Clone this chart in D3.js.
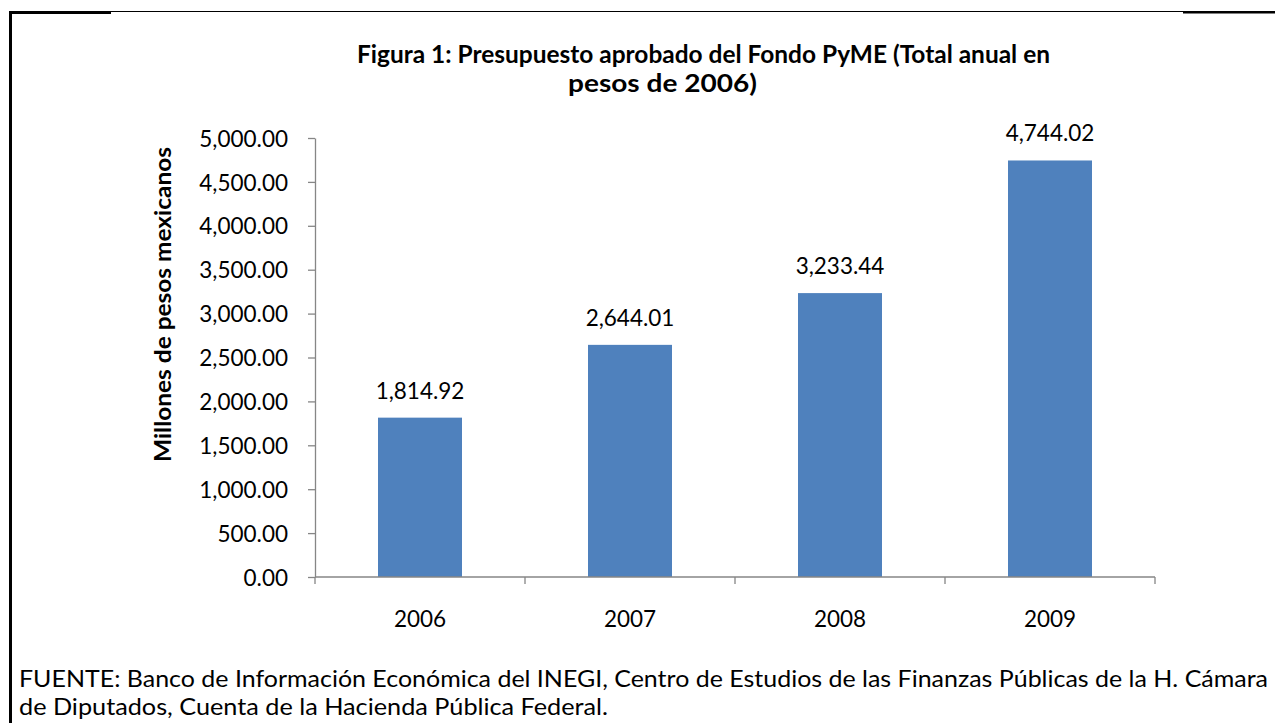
<!DOCTYPE html>
<html>
<head>
<meta charset="utf-8">
<script src="https://cdn.jsdelivr.net/npm/d3@7"></script>
<style>
  html, body { margin: 0; padding: 0; background: #fff; }
  svg { display: block; }
  text { font-family: Lato, "Open Sans", sans-serif; fill: #000; }
</style>
</head>
<body>
<svg id="chart" width="1275" height="723"></svg>
<script>
const categories = ["2006", "2007", "2008", "2009"];
const values = [1814.92, 2644.01, 3233.44, 4744.02];
const yTicks = [0, 500, 1000, 1500, 2000, 2500, 3000, 3500, 4000, 4500, 5000];
const titleLines = ["Figura 1: Presupuesto aprobado del Fondo PyME (Total anual en", "pesos de 2006)"];
const yTitle = "Millones de pesos mexicanos";
const sourceLines = [
  "FUENTE: Banco de Información Económica del INEGI, Centro de Estudios de las Finanzas Públicas de la H. Cámara",
  "de Diputados, Cuenta de la Hacienda Pública Federal."
];

const svg = d3.select("#chart");
const fmt = d3.format(",.2f");
const axisColor = "#868686";
const labelSize = 22.5;

// frame lines (page border)
svg.append("rect").attr("x", 9).attr("y", 11).attr("width", 3).attr("height", 712).attr("fill", "#000");
svg.append("rect").attr("x", 9).attr("y", 11).attr("width", 102).attr("height", 3).attr("fill", "#000");
svg.append("rect").attr("x", 111).attr("y", 11).attr("width", 1072).attr("height", 1).attr("fill", "#000");
svg.append("rect").attr("x", 1183).attr("y", 11).attr("width", 92).attr("height", 2.5).attr("fill", "#000");

const y = d3.scaleLinear().domain([0, 5000]).range([577, 138]);
const x = d3.scaleBand().domain(categories).range([315, 1155]).paddingInner(0.6).paddingOuter(0.3);

function squeeze(sel, targetWidth) {
  sel.attr("textLength", targetWidth).attr("lengthAdjust", "spacingAndGlyphs");
}

// bars
svg.append("g").selectAll("rect").data(values).join("rect")
  .attr("x", (d, i) => x(categories[i]))
  .attr("y", d => y(d))
  .attr("width", x.bandwidth())
  .attr("height", d => y(0) - y(d))
  .attr("fill", "#4F81BD");

// y axis
const yAxis = svg.append("g").attr("transform", "translate(315,0)")
  .call(d3.axisLeft(y).tickValues(yTicks).tickSize(7).tickSizeOuter(0).tickPadding(20).tickFormat(fmt));
yAxis.select(".domain").attr("stroke", axisColor).attr("stroke-width", 1.3);
yAxis.selectAll(".tick line").attr("stroke", axisColor).attr("stroke-width", 1.3);
yAxis.selectAll(".tick text").attr("font-family", "Lato").attr("font-size", labelSize).attr("fill", "#000").attr("dy", "0.36em");

// x axis
const xAxisG = svg.append("g");
xAxisG.append("line").attr("x1", 315).attr("x2", 1155).attr("y1", y(0)).attr("y2", y(0))
  .attr("stroke", axisColor).attr("stroke-width", 1.3);
const bounds = d3.range(categories.length + 1).map(i => x.range()[0] + i * x.step());
xAxisG.selectAll("line.tk").data(bounds).join("line").attr("class", "tk")
  .attr("x1", d => d).attr("x2", d => d).attr("y1", y(0)).attr("y2", y(0) + 7)
  .attr("stroke", axisColor).attr("stroke-width", 1.3);
xAxisG.selectAll("text").data(categories).join("text")
  .attr("x", d => x(d) + x.bandwidth() / 2).attr("y", 627)
  .attr("text-anchor", "middle").attr("font-size", labelSize).text(d => d);

// data labels
svg.append("g").selectAll("text").data(values).join("text")
  .attr("x", (d, i) => x(categories[i]) + x.bandwidth() / 2)
  .attr("y", d => y(d) - 19)
  .attr("text-anchor", "middle").attr("font-size", labelSize).text(d => fmt(d));

// title
const t1 = svg.append("text").attr("x", 357).attr("y", 63).attr("font-weight", "bold").attr("font-size", 24.5).text(titleLines[0]);
squeeze(t1, 693);
const t2 = svg.append("text").attr("x", 568).attr("y", 92).attr("font-weight", "bold").attr("font-size", 24.5).text(titleLines[1]);
squeeze(t2, 189);

// y title
const yt = svg.append("text").attr("transform", "translate(171,304.5) rotate(-90)")
  .attr("text-anchor", "middle").attr("font-weight", "bold").attr("font-size", 23).text(yTitle);
squeeze(yt, 315);

// source
const s1 = svg.append("text").attr("x", 19).attr("y", 687).attr("font-size", 22.5).text(sourceLines[0]);
squeeze(s1, 1249);
const s2 = svg.append("text").attr("x", 19).attr("y", 715).attr("font-size", 22.5).text(sourceLines[1]);
squeeze(s2, 589);
</script>
</body>
</html>
